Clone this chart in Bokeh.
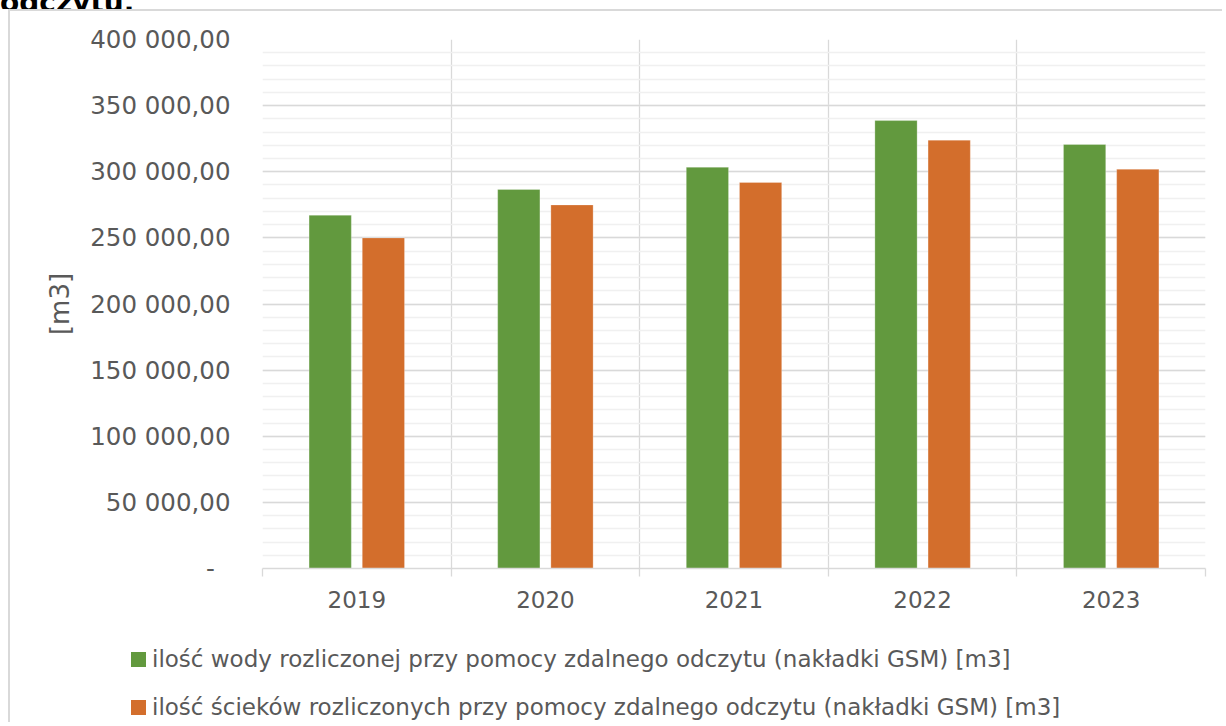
from bokeh.plotting import figure
from bokeh.models import Range1d, FixedTicker, ColumnDataSource, Div
from bokeh.layouts import column
from bokeh.transform import dodge
from bokeh.embed import file_html
from bokeh.resources import INLINE

# ---- data ----
title_text = "odczytu."
years = ["2019", "2020", "2021", "2022", "2023"]
water = [267100, 286600, 303400, 338700, 320600]
sewage = [250000, 274900, 291900, 323900, 301900]
series_names = [
    "ilość wody rozliczonej przy pomocy zdalnego odczytu (nakładki GSM) [m3]",
    "ilość ścieków rozliczonych przy pomocy zdalnego odczytu (nakładki GSM) [m3]",
]
y_ticks = [0, 50000, 100000, 150000, 200000, 250000, 300000, 350000, 400000]
y_tick_labels = ["-\u00a0\u00a0", "50 000,00", "100 000,00", "150 000,00", "200 000,00",
                 "250 000,00", "300 000,00", "350 000,00", "400 000,00"]
y_axis_title = "[m3]"

GREEN = "#62993E"
ORANGE = "#D36E2C"
TEXT = "#595959"
GRID = "#d9d9d9"
MINOR = "#f0f0f0"
FONT = "DejaVu Sans"
BORDER = "2px solid #d9d9d9"
series_colors = [GREEN, ORANGE]

n = len(years)
x_centers = [i + 0.5 for i in range(n)]
boundaries = list(range(n + 1))

src = ColumnDataSource(dict(x=x_centers, water=water, sewage=sewage))

# cut-off heading fragment above the chart box
title_div = Div(
    text=("<div style=\"margin:-18px 0 0 0;padding:0;font-family:'DejaVu Sans';font-weight:bold;"
          "font-size:28px;line-height:28px;color:#000;white-space:nowrap\">%s</div>" % title_text),
    width=1226, height=9, margin=(0, 0, 0, 0),
    styles={"overflow": "hidden", "height": "9px", "max-height": "9px", "padding": "0"})

# ---- main chart ----
p = figure(width=1214, height=619, x_range=Range1d(0, n), y_range=Range1d(0, 400000),
           output_backend="svg", toolbar_location=None,
           min_border_left=252, min_border_right=19, min_border_top=28, min_border_bottom=62)
p.margin = (0, 0, 0, 8)
p.styles = {"border-top": BORDER, "border-left": BORDER}
p.outline_line_color = None
p.background_fill_color = "white"
p.border_fill_color = "white"

r1 = p.vbar(x=dodge("x", -0.141, range=p.x_range), top="water", width=0.224, source=src,
            fill_color=GREEN, line_color="white", line_alpha=0.25)
r2 = p.vbar(x=dodge("x", 0.141, range=p.x_range), top="sewage", width=0.224, source=src,
            fill_color=ORANGE, line_color="white", line_alpha=0.25)

ya = p.yaxis[0]
ya.ticker = FixedTicker(ticks=y_ticks, minor_ticks=list(range(0, 400001, 10000)))
ya.major_label_overrides = dict(zip(y_ticks, y_tick_labels))
ya.axis_line_color = None
ya.major_tick_line_color = None
ya.minor_tick_line_color = None
ya.major_tick_out = 0
ya.major_label_standoff = 28
ya.major_label_text_font = FONT
ya.major_label_text_font_size = "24.5px"
ya.major_label_text_color = TEXT
ya.axis_label = y_axis_title
ya.axis_label_text_font = FONT
ya.axis_label_text_font_size = "26px"
ya.axis_label_text_font_style = "normal"
ya.axis_label_text_color = TEXT
ya.axis_label_standoff = 12

p.ygrid.grid_line_color = GRID
p.ygrid.grid_line_width = 1.3
p.ygrid.minor_grid_line_color = MINOR
p.ygrid.minor_grid_line_width = 1.3

xa = p.xaxis[0]
xa.ticker = FixedTicker(ticks=x_centers, minor_ticks=boundaries)
xa.major_label_overrides = dict(zip(x_centers, years))
xa.axis_line_color = GRID
xa.axis_line_width = 1.3
xa.major_tick_line_color = None
xa.major_tick_out = 0
xa.major_tick_in = 0
xa.minor_tick_line_color = GRID
xa.minor_tick_line_width = 1.3
xa.minor_tick_out = 8
xa.minor_tick_in = 0
xa.major_label_standoff = 14
xa.major_label_text_font = FONT
xa.major_label_text_font_size = "23px"
xa.major_label_text_color = TEXT

p.xgrid.ticker = FixedTicker(ticks=boundaries)
p.xgrid.grid_line_color = GRID
p.xgrid.grid_line_width = 1.3

# ---- legend strip (continues the chart box) ----
rows = []
for i, (name, col) in enumerate(zip(series_names, series_colors)):
    top = 19 if i == 0 else 24
    rows.append(
        "<div style=\"display:flex;align-items:center;height:24px;margin-top:%dpx\">"
        "<span style=\"display:inline-block;width:15px;height:15px;background:%s;flex:none\"></span>"
        "<span style=\"margin-left:6px;white-space:nowrap\">%s</span></div>" % (top, col, name))
legend_html = ("<div style=\"padding-left:121px;font-family:'DejaVu Sans';font-size:23px;"
               "line-height:24px;color:%s\">%s</div>" % (TEXT, "".join(rows)))
legend_div = Div(text=legend_html, width=1214, height=94, margin=(0, 0, 0, 8),
                 styles={"border-left": BORDER, "overflow": "hidden"})

layout = column(title_div, p, legend_div, spacing=0)
open("out.html", "w").write(file_html(layout, INLINE))
